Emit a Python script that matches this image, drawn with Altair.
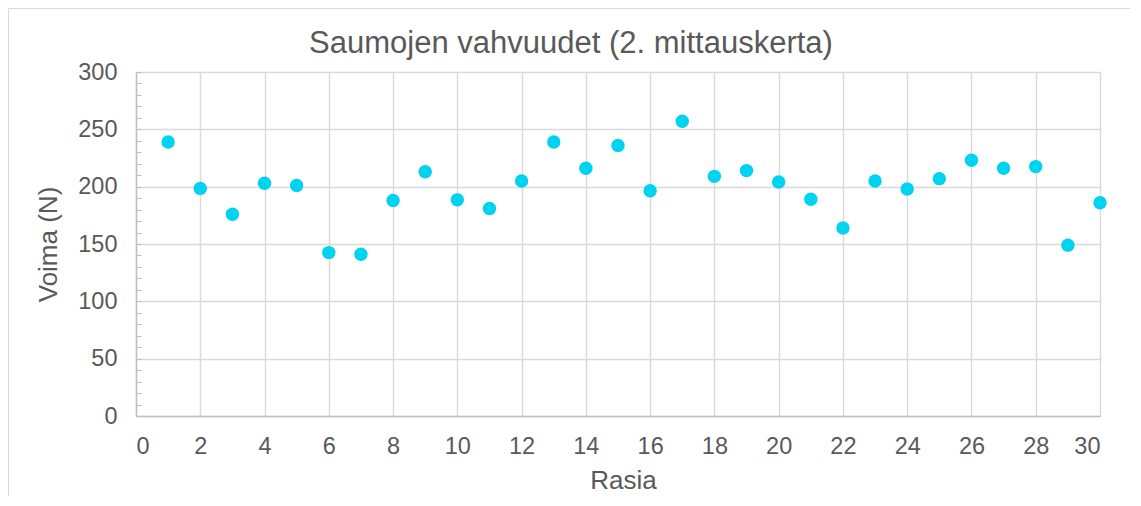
import altair as alt
import pandas as pd

rasia = list(range(1, 31))
voima = [239, 198.5, 176, 203, 201, 142.5, 141, 188, 213, 188.5,
         181, 205, 239, 216, 236, 196.5, 257, 209, 214, 204,
         189, 164, 205, 198, 207, 223, 216, 217.5, 149, 186]

x_ticks = list(range(0, 31, 2))
y_ticks = list(range(0, 301, 50))
y_minor = list(range(0, 301, 10))

title_text = "Saumojen vahvuudet (2. mittauskerta)"
x_title = "Rasia"
y_title = "Voima (N)"

df = pd.DataFrame({"Rasia": rasia, "Voima": voima})

FONT = "Liberation Sans"
TXT = "#595959"
GRID = "#d9d9d9"
W, H = 964, 344
LBL = 23.5
TTL = 26

xscale = alt.Scale(domain=[0, 30], nice=False, zero=False)
yscale = alt.Scale(domain=[0, 300], nice=False)

border = alt.Chart(alt.Data(values=[{}])).mark_rect(
    fill=None, stroke=GRID, strokeWidth=1
).encode(
    x=alt.value(-127.5), x2=alt.value(W + 200),
    y=alt.value(-63.5), y2=alt.value(H + 200),
)

title = alt.Chart(alt.Data(values=[{"t": title_text}])).mark_text(
    font=FONT, fontSize=31, color=TXT, align="center", baseline="alphabetic"
).encode(
    x=alt.value(W / 2 - 47), y=alt.value(-19), text="t:N"
)

points = alt.Chart(df).mark_circle(
    size=180, color="#00D3EF", opacity=1
).encode(
    x=alt.X("Rasia:Q", scale=xscale,
            axis=alt.Axis(values=x_ticks, title=x_title, grid=True,
                          gridColor=GRID, gridWidth=1.4,
                          domainColor="#bfbfbf", domainWidth=1.4,
                          ticks=False, tickSize=0, labelPadding=18,
                          labelFontSize=LBL, labelColor=TXT, labelFont=FONT,
                          titleFontSize=TTL, titleColor=TXT, titleFont=FONT,
                          titleFontWeight="normal",
                          titleX=W / 2 + 5, titleY=72, titleBaseline="alphabetic")),
    y=alt.Y("Voima:Q", scale=yscale,
            axis=alt.Axis(values=y_ticks, title=y_title, grid=True,
                          gridColor=GRID, gridWidth=1.4,
                          domainColor="#bfbfbf", domainWidth=1.4,
                          ticks=False, tickSize=0, labelPadding=19,
                          labelFontSize=LBL, labelColor=TXT, labelFont=FONT,
                          titleFontSize=TTL, titleColor=TXT, titleFont=FONT,
                          titleFontWeight="normal", titleAngle=-90,
                          titleX=-80, titleY=H / 2, titleBaseline="alphabetic",
                          titleAlign="center")),
)

minor = alt.Chart(df).mark_circle(opacity=0).encode(
    x=alt.X("Rasia:Q", scale=xscale),
    y=alt.Y("Voima:Q", scale=yscale,
            axis=alt.Axis(orient="right", offset=-W, values=y_minor,
                          labels=False, grid=False, domain=False,
                          ticks=True, tickSize=5, tickColor="#bfbfbf",
                          tickWidth=1, title=None)),
)

chart = alt.layer(border, title, points, minor).resolve_scale(
    y="independent"
).properties(
    width=W, height=H,
    padding={"left": 128, "top": 64, "right": 30, "bottom": 80},
    autosize=alt.AutoSizeParams(type="none"),
).configure_view(stroke=None).configure(background="white")

chart.save("out.html", embed_options={"renderer": "svg", "actions": False})
